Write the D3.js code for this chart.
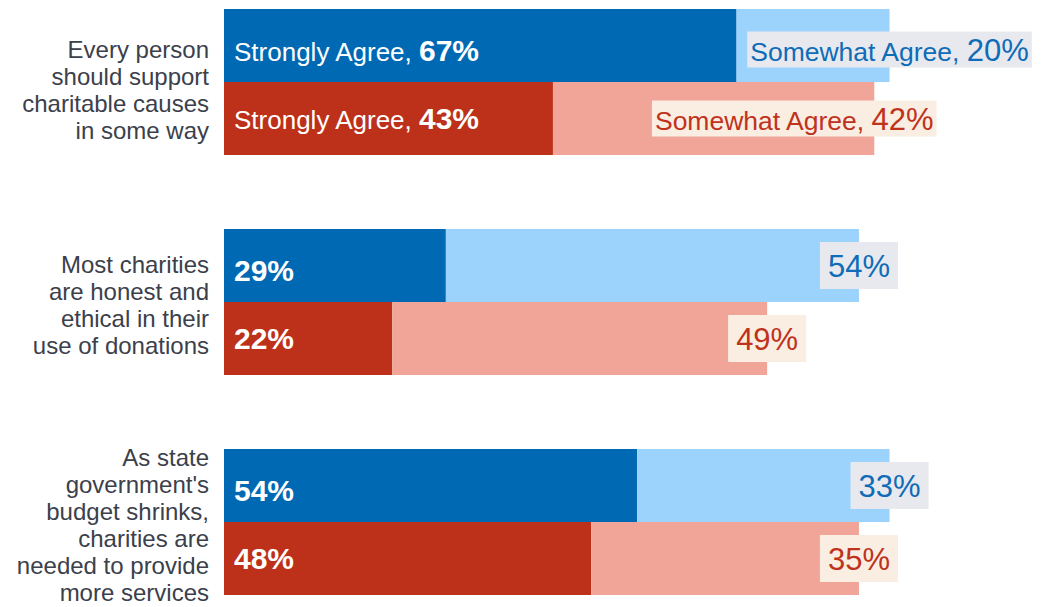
<!DOCTYPE html>
<html>
<head>
<meta charset="utf-8">
<script src="https://cdn.jsdelivr.net/npm/d3@7"></script>
<style>
  html, body { margin: 0; padding: 0; background: #ffffff; }
  svg { display: block; font-family: "Liberation Sans", Arial, Helvetica, sans-serif; }
</style>
</head>
<body>
<svg id="chart" width="1041" height="607"></svg>
<script>
// ---- Data ----
const categories = [
  "Every person\nshould support\ncharitable causes\nin some way",
  "Most charities\nare honest and\nethical in their\nuse of donations",
  "As state\ngovernment's\nbudget shrinks,\ncharities are\nneeded to provide\nmore services"
];
const seriesNames = ["Blue group", "Red group"];
const stronglyAgreeBlue = [67, 29, 54];
const somewhatAgreeBlue = [20, 54, 33];
const stronglyAgreeRed  = [43, 22, 48];
const somewhatAgreeRed  = [42, 49, 35];
const segmentNames = ["Strongly Agree", "Somewhat Agree"];

// ---- Style ----
const colors = {
  "Blue group": { strong: "#0069b4", some: "#9bd3fd", text: "#0f6cb7", box: "#e8e9ee" },
  "Red group":  { strong: "#bd3019", some: "#f0a598", text: "#c0321c", box: "#f9eee1" }
};

const rows = [];
categories.forEach((c, i) => {
  rows.push({ cat: c, ci: i, series: seriesNames[0], strong: stronglyAgreeBlue[i], some: somewhatAgreeBlue[i] });
  rows.push({ cat: c, ci: i, series: seriesNames[1], strong: stronglyAgreeRed[i],  some: somewhatAgreeRed[i] });
});

const svg = d3.select("#chart");

const x = d3.scaleLinear().domain([0, 100]).range([224, 989]);
const y0 = d3.scaleBand().domain(categories).range([9, 595]).paddingInner(74 / 220);
const y1 = d3.scaleBand().domain(seriesNames).range([0, y0.bandwidth()]);

const g = svg.append("g");

// bars
const row = g.selectAll("g.row").data(rows).join("g")
  .attr("class", "row")
  .attr("transform", d => `translate(0,${y0(d.cat) + y1(d.series)})`);

row.append("rect")
  .attr("x", x(0))
  .attr("y", 0)
  .attr("width", d => x(d.strong) - x(0))
  .attr("height", y1.bandwidth())
  .attr("fill", d => colors[d.series].strong);

row.append("rect")
  .attr("x", d => x(d.strong))
  .attr("y", 0)
  .attr("width", d => x(d.strong + d.some) - x(d.strong))
  .attr("height", y1.bandwidth())
  .attr("fill", d => colors[d.series].some);

// strongly agree labels (white, inside)
const sLab = row.append("text")
  .attr("x", x(0) + 10)
  .attr("y", d => y1.bandwidth() / 2 + (d.series === seriesNames[0] ? 15 : 10))
  .attr("fill", "#ffffff");
sLab.filter(d => d.ci === 0).append("tspan")
  .attr("font-size", 26)
  .text(segmentNames[0] + ", ");
sLab.append("tspan")
  .attr("font-size", 30)
  .attr("font-weight", "bold")
  .text(d => d.strong + "%");

// somewhat agree labels (boxed, centered on bar end)
const nudge = { "0|Red group": -80 };
const wLab = row.append("g").attr("class", "wlab");
const wText = wLab.append("text")
  .attr("fill", d => colors[d.series].text)
  .attr("text-anchor", "middle")
  .attr("x", d => x(d.strong + d.some) + (nudge[d.ci + "|" + d.series] || 0))
  .attr("y", d => y1.bandwidth() / 2 + (d.ci === 0 && d.series === seriesNames[0] ? 15 : 11));
wText.filter(d => d.ci === 0).append("tspan")
  .attr("font-size", 26.5)
  .text(segmentNames[1] + ", ");
wText.append("tspan")
  .attr("font-size", 31)
  .text(d => d.some + "%");

wLab.each(function(d) {
  const t = d3.select(this).select("text");
  const bb = t.node().getBBox();
  const long = d.ci === 0;
  const padX = long ? 3 : 8;
  const h = long ? 36 : 47;
  const cy = y1.bandwidth() / 2 + (long && d.series === seriesNames[0] ? 4 : 0);
  d3.select(this).insert("rect", "text")
    .attr("x", bb.x - padX)
    .attr("y", cy - h / 2)
    .attr("width", bb.width + padX * 2)
    .attr("height", h)
    .attr("fill", colors[d.series].box);
});

// category labels
const lineH = 27;
const catLab = g.selectAll("text.cat").data(categories).join("text")
  .attr("class", "cat")
  .attr("text-anchor", "end")
  .attr("font-size", 24)
  .attr("fill", "#3b404b");
catLab.each(function(c, ci) {
  const lines = c.split("\n");
  const cy = y0(c) + y0.bandwidth() / 2;
  const first = cy - (lines.length - 1) / 2 * lineH + 11 + (ci === 0 ? 5 : 0);
  d3.select(this).selectAll("tspan").data(lines).join("tspan")
    .attr("x", 209)
    .attr("y", (l, i) => first + i * lineH)
    .text(l => l);
});
</script>
</body>
</html>
